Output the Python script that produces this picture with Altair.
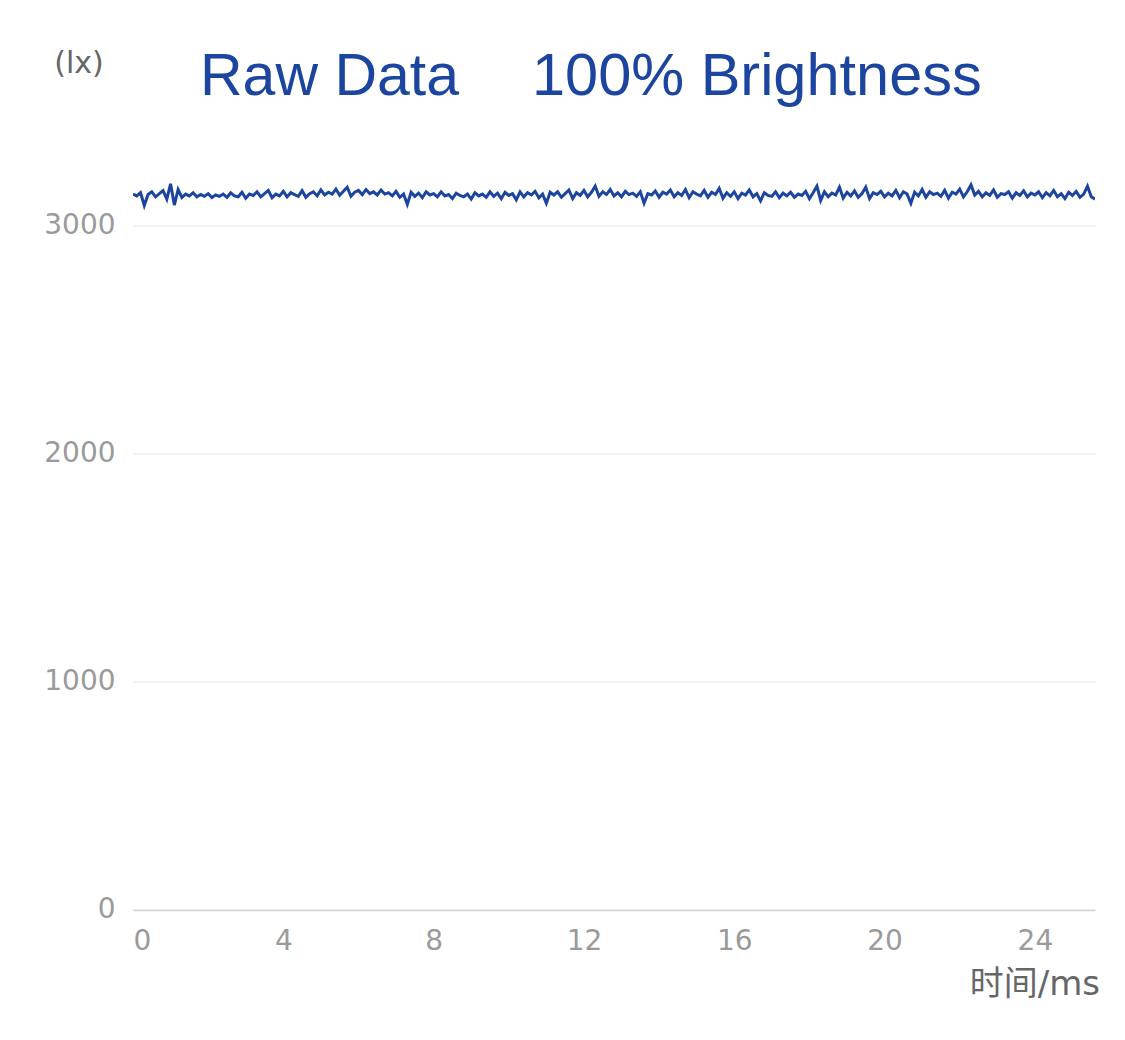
import altair as alt
import pandas as pd

# ---- data ----
TITLE_PARTS = ["Raw Data", "100% Brightness"]
Y_UNIT = "(lx)"
X_UNIT = "时间/ms"
SAMPLE_MS = 0.1            # one reading every 0.1 ms
X_TICKS = [0, 4, 8, 12, 16, 20, 24]
Y_TICKS = [0, 1000, 2000, 3000]
X_MAX = 25.6
Y_MAX = 3300

LUX = [
    3140, 3132, 3146, 3090, 3138, 3150, 3128, 3142, 3155, 3118, 3185, 3092, 3160, 3125, 3140, 3132,
    3146, 3128, 3138, 3130, 3142, 3125, 3136, 3130, 3140, 3126, 3145, 3132, 3128, 3148, 3122, 3140,
    3134, 3150, 3128, 3142, 3156, 3124, 3140, 3132, 3152, 3128, 3146, 3138, 3130, 3155, 3126, 3142,
    3150, 3132, 3158, 3136, 3148, 3140, 3162, 3135, 3152, 3170, 3130, 3148, 3156, 3138, 3160, 3142,
    3150, 3136, 3158, 3140, 3146, 3132, 3152, 3126, 3140, 3095, 3148, 3130, 3144, 3124, 3150, 3136,
    3142, 3128, 3150, 3132, 3138, 3120, 3144, 3134, 3128, 3140, 3118, 3146, 3132, 3140, 3126, 3150,
    3130, 3144, 3120, 3148, 3134, 3142, 3115, 3150, 3128, 3146, 3136, 3152, 3124, 3140, 3100, 3148,
    3136, 3150, 3126, 3142, 3158, 3120, 3146, 3134, 3156, 3128, 3148, 3175, 3130, 3150, 3138, 3160,
    3132, 3146, 3128, 3152, 3138, 3144, 3130, 3150, 3100, 3142, 3136, 3154, 3126, 3148, 3140, 3158,
    3128, 3146, 3134, 3160, 3124, 3150, 3140, 3132, 3156, 3126, 3148, 3138, 3165, 3122, 3146, 3130,
    3150, 3120, 3144, 3136, 3158, 3128, 3142, 3110, 3146, 3134, 3130, 3150, 3124, 3144, 3132, 3148,
    3126, 3140, 3134, 3152, 3120, 3146, 3175, 3112, 3150, 3128, 3144, 3136, 3170, 3122, 3148, 3132,
    3154, 3126, 3142, 3170, 3120, 3146, 3138, 3152, 3128, 3144, 3132, 3156, 3124, 3150, 3140, 3100,
    3148, 3132, 3160, 3126, 3150, 3138, 3144, 3130, 3156, 3122, 3148, 3140, 3162, 3128, 3150, 3180,
    3136, 3152, 3128, 3146, 3134, 3158, 3126, 3142, 3138, 3150, 3122, 3146, 3134, 3154, 3128, 3144,
    3136, 3150, 3124, 3146, 3132, 3156, 3128, 3142, 3120, 3148, 3134, 3152, 3126, 3140, 3175, 3128,
    3118,
]

df = pd.DataFrame({
    "t": [round(i * SAMPLE_MS, 1) for i in range(len(LUX))],
    "lux": LUX,
})

BLUE = "#1c45a0"
W, H = 962, 752.4

line = alt.Chart(df).mark_line(color=BLUE, strokeWidth=3, clip=True).encode(
    x=alt.X("t:Q",
            scale=alt.Scale(domain=[0, X_MAX], nice=False, zero=True),
            axis=alt.Axis(values=X_TICKS, title=None, grid=False, ticks=False,
                          domain=True, domainColor="#d4d4d4", domainWidth=1.5,
                          labelFont="DejaVu Sans", labelFontSize=28,
                          labelColor="#9a9a9a", labelPadding=18, labelFlush=True)),
    y=alt.Y("lux:Q",
            scale=alt.Scale(domain=[0, Y_MAX], nice=False),
            axis=alt.Axis(values=Y_TICKS, title=None, grid=True, gridColor="#f0f0f0",
                          gridWidth=2, ticks=False, domain=False, format="d",
                          labelFont="DejaVu Sans", labelFontSize=28,
                          labelColor="#9a9a9a", labelPadding=18)),
)

title1 = alt.Chart(pd.DataFrame({"txt": [TITLE_PARTS[0]]})).mark_text(
    font="Liberation Sans", fontSize=59, color=BLUE, align="left", baseline="alphabetic"
).encode(text="txt:N", x=alt.value(67), y=alt.value(-62.6))

title2 = alt.Chart(pd.DataFrame({"txt": [TITLE_PARTS[1]]})).mark_text(
    font="Liberation Sans", fontSize=59.5, color=BLUE, align="left", baseline="alphabetic"
).encode(text="txt:N", x=alt.value(399), y=alt.value(-62.6))

yunit = alt.Chart(pd.DataFrame({"txt": [Y_UNIT]})).mark_text(
    font="DejaVu Sans", fontSize=30, color="#666666", align="center", baseline="alphabetic"
).encode(text="txt:N", x=alt.value(-54), y=alt.value(-84.6))

xunit = alt.Chart(pd.DataFrame({"txt": [X_UNIT]})).mark_text(
    font="DejaVu Sans, Noto Sans CJK SC", fontSize=34, color="#666666", align="right",
    baseline="alphabetic"
).encode(text="txt:N", x=alt.value(967), y=alt.value(837))

chart = alt.layer(line, title1, title2, yunit, xunit).properties(
    width=W, height=H,
    autosize=alt.AutoSizeParams(type="none"),
    padding={"left": 133, "top": 157.6, "right": 30, "bottom": 129.6},
    background="white",
).configure_view(stroke=None)

chart.save("out.html", embed_options={"renderer": "svg", "actions": False})
